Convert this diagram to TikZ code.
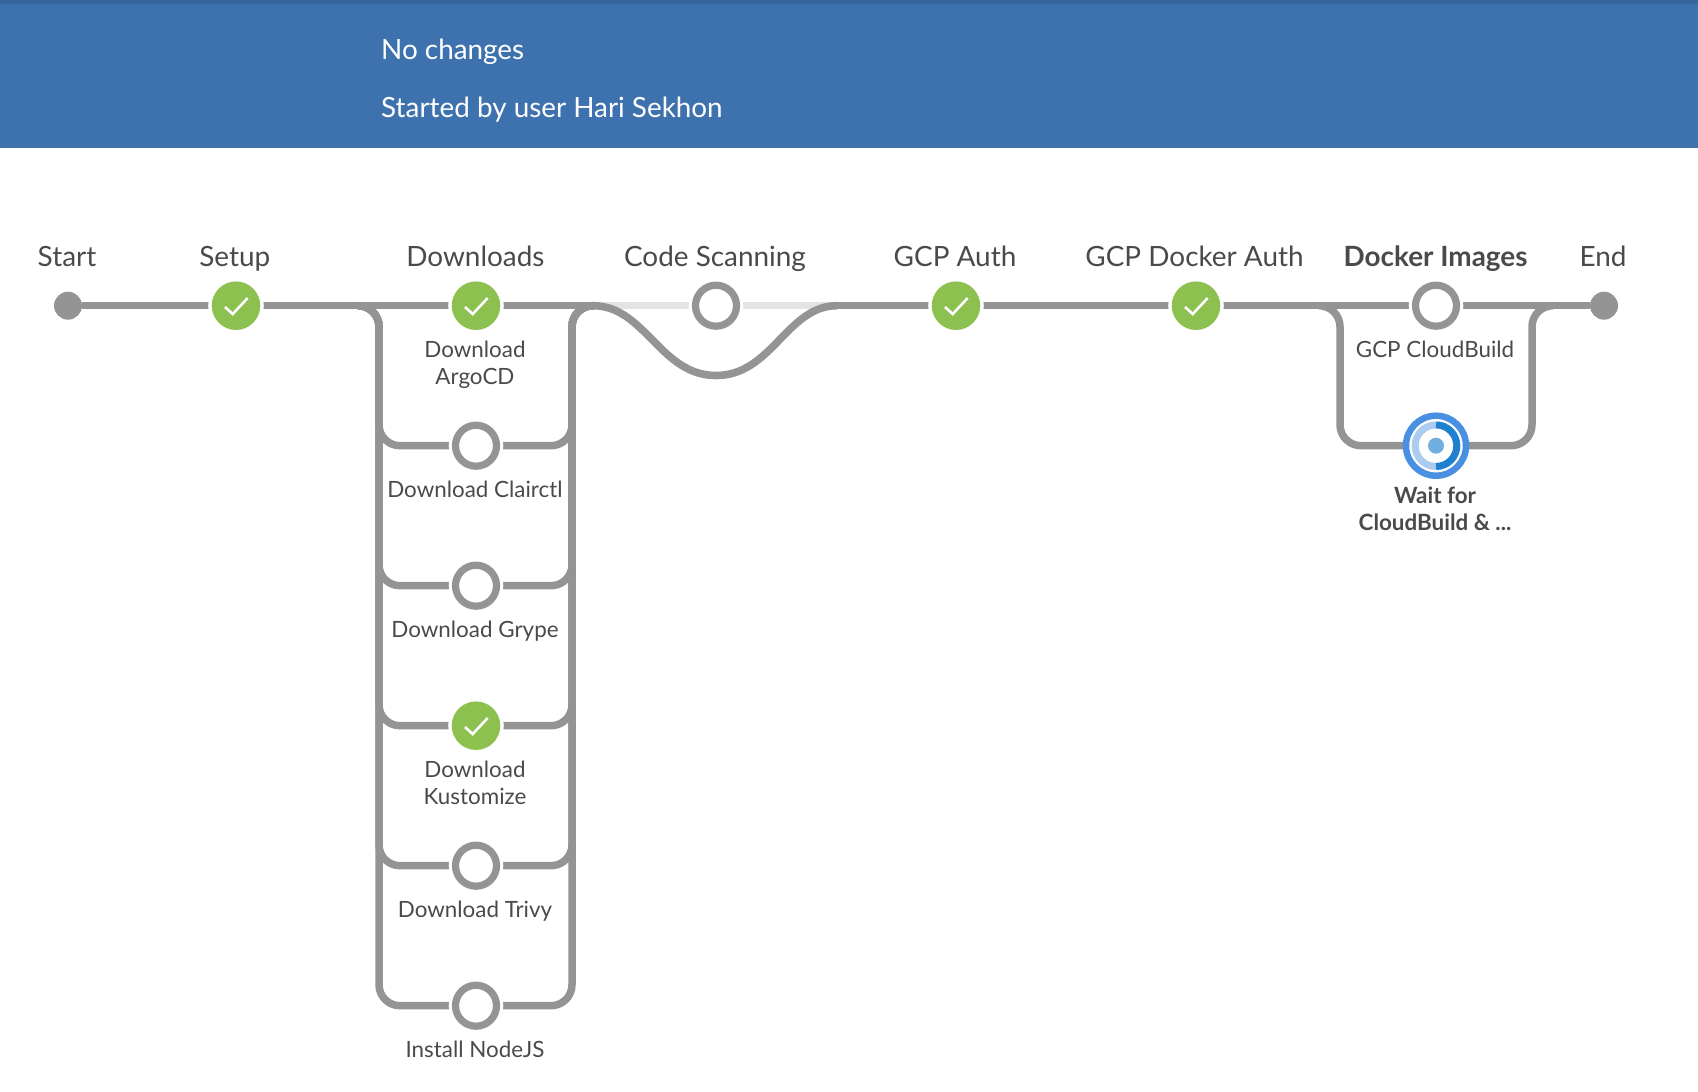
\documentclass[tikz,border=0pt]{standalone}
\usepackage{fontspec}
\setmainfont{Lato}
\definecolor{lineg}{HTML}{949494}
\definecolor{lightg}{HTML}{E3E3E3}
\definecolor{okg}{HTML}{8CC04F}
\definecolor{txt}{HTML}{4A4A4A}
\definecolor{hdr}{HTML}{3E72AE}
\definecolor{hdrtop}{HTML}{35659B}
\definecolor{spinout}{HTML}{4A90E2}
\definecolor{spinlight}{HTML}{ABCBF0}
\definecolor{spindark}{HTML}{2080D0}
\definecolor{spindot}{HTML}{71AEE0}
\pgfdeclarelayer{under}
\pgfsetlayers{under,main}
\tikzset{
  x=1pt,y=-1pt,
  conn/.style={draw=lineg,line width=7pt},
  branch/.style={conn,line width=7.5pt,rounded corners=21pt},
  halo/.style={preaction={draw=white,line width=13.5pt}},
  ringnode/.style={circle,inner sep=0pt,minimum size=41pt,draw=lineg,line width=7.2pt,fill=white,halo},
  oknode/.style={circle,inner sep=0pt,minimum size=42pt,draw=okg,line width=6.5pt,fill=okg,halo},
  endpoint/.style={circle,inner sep=0pt,minimum size=28pt,fill=lineg},
  spinnode/.style={circle,inner sep=0pt,minimum size=60pt,draw=spinout,line width=6.5pt,fill=white},
  check/.style={draw=white,line width=2.6pt},
  toplabel/.style={font=\fontsize{27.9}{33}\selectfont,text=txt,anchor=base,inner sep=0pt},
  sublabel/.style={font=\fontsize{22.4}{27}\selectfont,text=txt,anchor=base,inner sep=0pt},
  headtext/.style={font=\fontsize{27.85}{33}\selectfont,text=white,anchor=base west,inner sep=0pt},
}
\begin{document}
\begin{tikzpicture}
\useasboundingbox (0,0) rectangle (1698,1092);
\fill[hdr] (0,0) rectangle (1698,148);
\fill[hdrtop] (0,0) rectangle (1698,4);
\node[headtext] (nochanges) at (381,59) {No changes};
\node[headtext] (startedby) at (381,117) {Started by user Hari Sekhon};

% stage and step nodes
\node[endpoint] (start) at (68,305.7) {};
\node[oknode] (setup) at (236,305.7) {};
\node[oknode] (downloads) at (476,305.7) {};
\node[ringnode] (clairctl) at (476,445.7) {};
\node[ringnode] (grype) at (476,585.7) {};
\node[oknode] (kustomize) at (476,725.7) {};
\node[ringnode] (trivy) at (476,865.7) {};
\node[ringnode] (nodejs) at (476,1005.7) {};
\node[ringnode] (codescan) at (716,305.7) {};
\node[oknode] (gcpauth) at (956,305.7) {};
\node[oknode] (dockerauth) at (1196,305.7) {};
\node[ringnode] (cloudbuild) at (1436,305.7) {};
\node[spinnode] (waitfor) at (1436,445.7) {};
\node[endpoint] (end) at (1604,305.7) {};

% junctions
\coordinate (jdl) at (358,305.7);
\coordinate (jdr) at (593,305.7);
\coordinate (sbot) at (716,375.5);
\coordinate (sout) at (837,305.7);
\coordinate (jil) at (1319,305.7);
\coordinate (jir) at (1553,305.7);

\begin{pgfonlayer}{under}
  \draw[draw=lightg,line width=7pt] (jdr) -- (codescan) -- (sout);
  \draw[conn] (start) -- (setup);
  \draw[conn] (setup) -- (downloads);
  \draw[conn] (downloads) -- (jdr);
  \draw[conn,line width=7.6pt] (jdr) .. controls (645,305.7) and (660,375.5) .. (sbot)
              .. controls (772,375.5) and (787,305.7) .. (sout);
  \draw[conn] (sout) -- (gcpauth);
  \draw[conn] (gcpauth) -- (dockerauth);
  \draw[conn] (dockerauth) -- (cloudbuild);
  \draw[conn] (cloudbuild) -- (end);
  \foreach \n in {clairctl,grype,kustomize,trivy,nodejs}{
    \draw[branch] (jdl) -- ++(21,0) -- ([xshift=21pt]jdl |- \n) -- (\n.center);
    \draw[branch] (\n.center) -- ([xshift=-21pt]jdr |- \n) -- ([xshift=-21pt]jdr) -- (jdr);
  }
  \draw[branch] (jil) -- ++(21,0) -- ([xshift=21pt]jil |- waitfor) -- (waitfor.center);
  \draw[branch] (waitfor.center) -- ([xshift=-21pt]jir |- waitfor) -- ([xshift=-21pt]jir) -- (jir);
\end{pgfonlayer}

% check marks
\foreach \n in {setup,downloads,kustomize,gcpauth,dockerauth}{
  \draw[check] ([shift={(-11,1.3)}]\n.center) -- ++(7.7,7) -- ++(15,-16);
}
% spinner
\draw[draw=spinlight,line width=7pt] ([yshift=-20.8pt]waitfor.center) arc[start angle=270,end angle=90,radius=20.8pt];
\draw[draw=spindark,line width=7pt] ([yshift=-20.8pt]waitfor.center) arc[start angle=-90,end angle=90,radius=20.8pt];
\fill[spindot] (waitfor.center) circle[radius=8pt];

% labels
\node[toplabel] (lstart) at (67,266) {Start};
\node[toplabel] (lsetup) at (234.8,266) {Setup};
\node[toplabel] (ldownloads) at (475.4,266) {Downloads};
\node[toplabel] (lcode) at (715,266) {Code Scanning};
\node[toplabel] (lgcp) at (955,266) {GCP Auth};
\node[toplabel] (ldocker) at (1194.5,266) {GCP Docker Auth};
\node[toplabel,font=\fontsize{27.9}{33}\selectfont\bfseries] (limages) at (1435.5,266) {Docker Images};
\node[toplabel] (lend) at (1603,266) {End};

\node[sublabel] (largo1) at (475,357.7) {Download};
\node[sublabel] (largo2) at (475,384.5) {ArgoCD};
\node[sublabel] (lclair) at (475,497.5) {Download Clairctl};
\node[sublabel] (lgrype) at (475,637.5) {Download Grype};
\node[sublabel] (lkust1) at (475,777.5) {Download};
\node[sublabel] (lkust2) at (475,804.5) {Kustomize};
\node[sublabel] (ltrivy) at (475,917.5) {Download Trivy};
\node[sublabel] (lnode) at (475,1057.5) {Install NodeJS};
\node[sublabel] (lcloud) at (1435,357.7) {GCP CloudBuild};
\node[sublabel,font=\fontsize{22.4}{27}\selectfont\bfseries] (lwait1) at (1435,503) {Wait for};
\node[sublabel,font=\fontsize{22.4}{27}\selectfont\bfseries] (lwait2) at (1435,530) {CloudBuild \& ...};
\end{tikzpicture}
\end{document}
